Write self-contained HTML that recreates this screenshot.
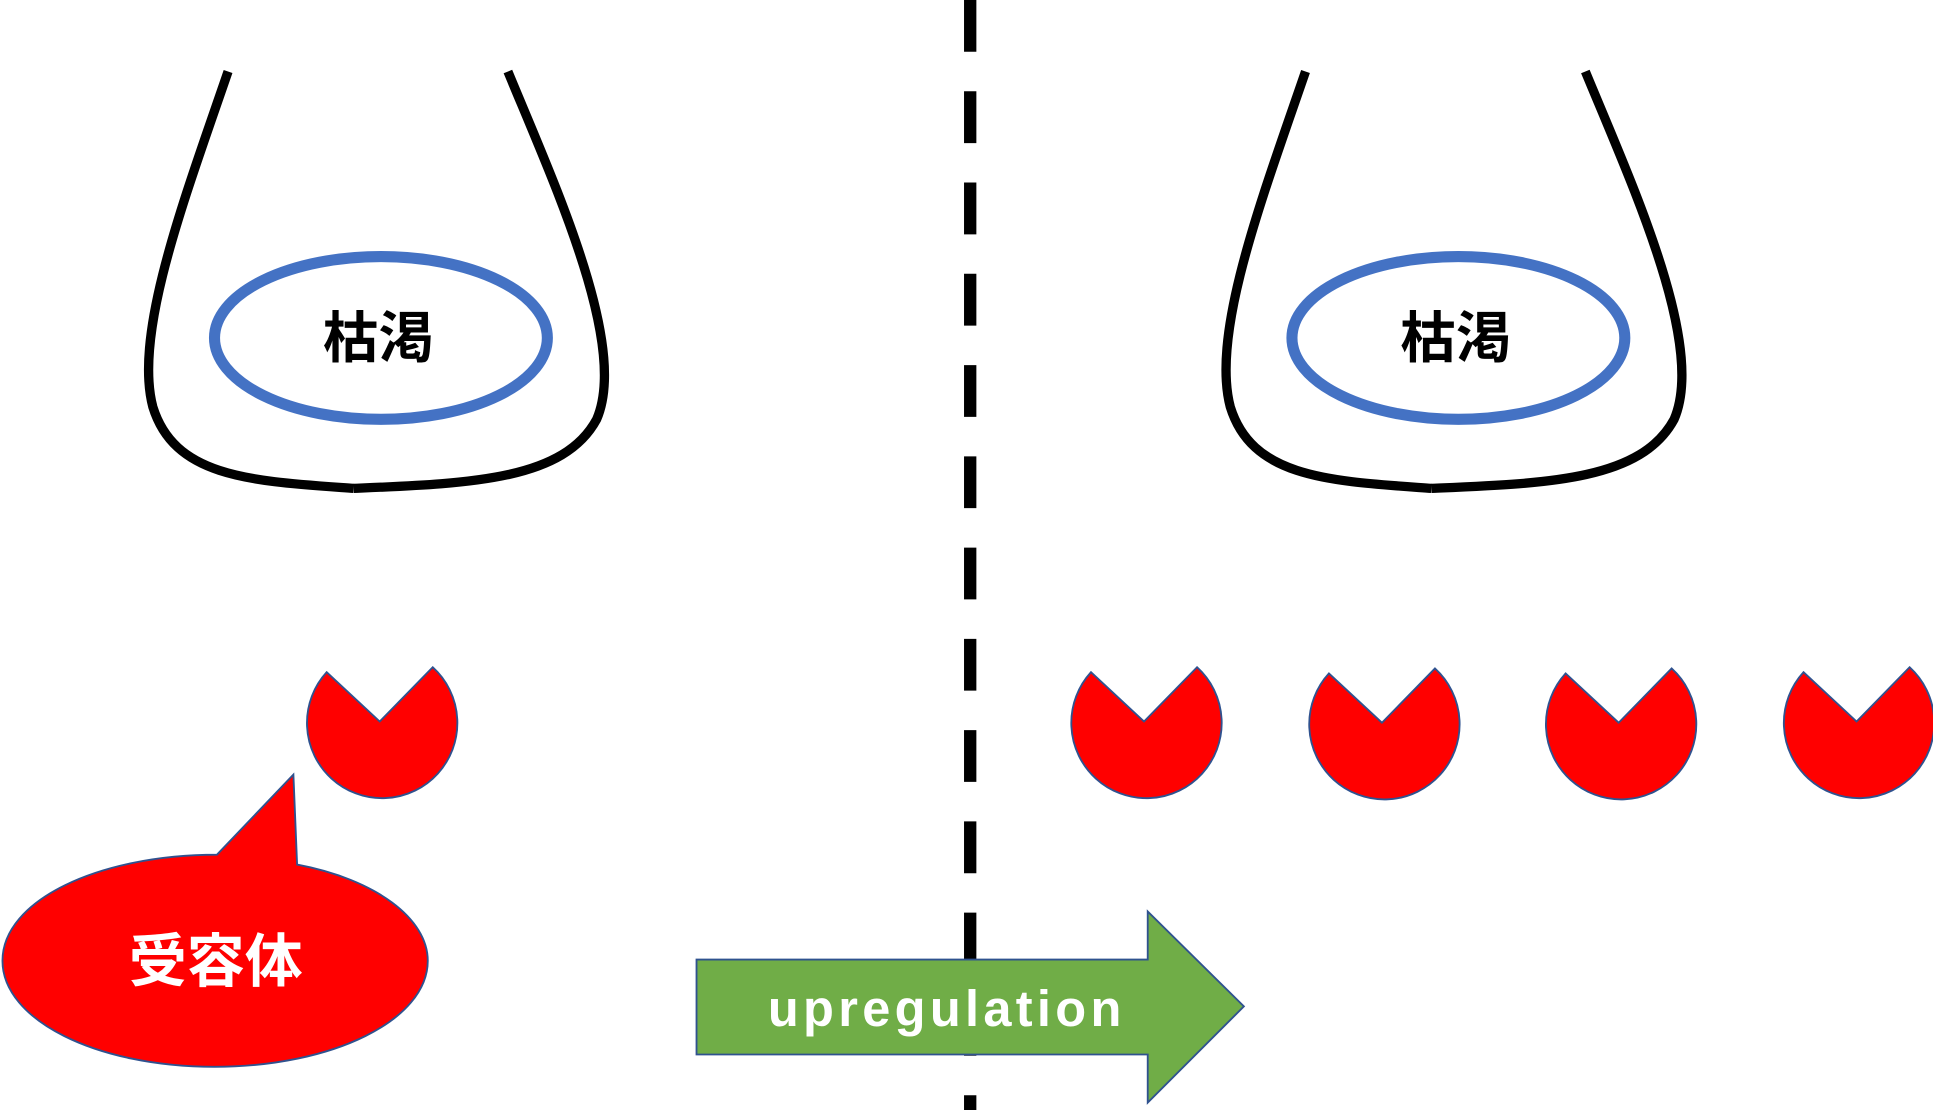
<!DOCTYPE html>
<html><head><meta charset="utf-8"><style>html,body{margin:0;padding:0;background:#fff;}svg{display:block}</style></head>
<body>
<svg width="1933" height="1110" viewBox="0 0 1568 900" preserveAspectRatio="none" xmlns="http://www.w3.org/2000/svg">
<rect width="1568" height="900" fill="#fff"/>
<g fill="none" stroke="#000" stroke-width="7.5">
<path d="M185,58 C150,160 108,270 124,330 C142,388 205,390 287,396"/>
<path d="M412,58 C450,150 510,280 484,340 C457,390 380,392 287,396"/>
<path d="M1059,58 C1024,160 982,270 998,330 C1016,388 1079,390 1161,396"/>
<path d="M1286,58 C1324,150 1384,280 1358,340 C1331,390 1254,392 1161,396"/>
</g>
<g fill="#fff" stroke="#4472C4" stroke-width="9">
<ellipse cx="309" cy="274" rx="135" ry="66"/>
<ellipse cx="1183" cy="274" rx="135" ry="66"/>
</g>
<g font-family="'Liberation Sans','Noto Sans CJK JP',sans-serif" font-weight="bold" font-size="45" text-anchor="middle">
<text x="307" y="290">枯渇</text>
<text x="1181" y="290">枯渇</text>
</g>
<line x1="787" y1="0" x2="787" y2="900" stroke="#000" stroke-width="10" stroke-dasharray="42,32"/>
<g fill="#FF0000" stroke="#2F528F" stroke-width="1.5">
<path d="M265,545 L308,585 L351,541 A61,61 0 1 1 265,545 Z"/>
<path d="M885,545 L928,585 L971,541 A61,61 0 1 1 885,545 Z"/>
<path d="M1078,546 L1121,586 L1164,542 A61,61 0 1 1 1078,546 Z"/>
<path d="M1270,546 L1313,586 L1356,542 A61,61 0 1 1 1270,546 Z"/>
<path d="M1463,545 L1506,585 L1549,541 A61,61 0 1 1 1463,545 Z"/>
<path d="M176,693 L238,628 L241,701 C305,713 347,745 347,779 C347,827 270,865 174,865 C78,865 2,827 2,779 C2,730 80,693 176,693 Z"/>
</g>
<text x="175" y="796" font-family="'Liberation Sans','Noto Sans CJK JP',sans-serif" font-weight="bold" font-size="47" fill="#fff" text-anchor="middle">受容体</text>
<path d="M565,778 L931,778 L931,739 L1009,816 L931,894 L931,855 L565,855 Z" fill="#70AD47" stroke="#2F528F" stroke-width="1.5"/>
<text x="768" y="832" font-family="'Liberation Sans','Noto Sans CJK JP',sans-serif" font-weight="bold" font-size="41" letter-spacing="3.5" fill="#fff" text-anchor="middle">upregulation</text>
</svg>
</body></html>
